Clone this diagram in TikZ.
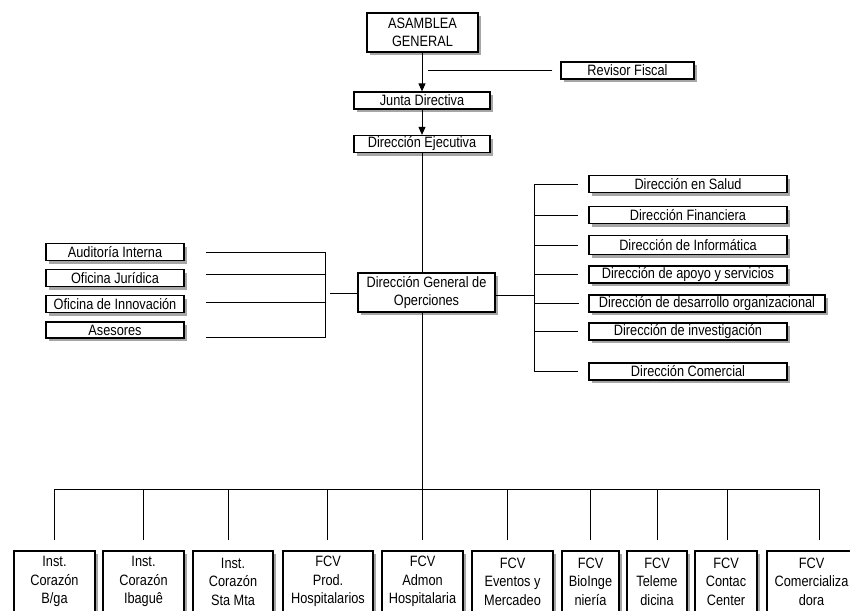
\documentclass[tikz,border=0pt]{standalone}
\usepackage{fontspec}
\setmainfont{Liberation Sans}[FakeStretch=0.85]
\usetikzlibrary{shadows,arrows.meta}
\begin{document}
\begin{tikzpicture}[x=1pt,y=-1pt,
  orgbox/.style={draw=black, line width=1.2pt, fill=white, inner sep=0pt, align=center,
    font=\fontsize{15}{18.5}\selectfont,
    drop shadow={shadow xshift=2.5pt, shadow yshift=-3pt, fill=black, opacity=0.35}},
  conn/.style={draw=black, line width=0.9pt},
  arr/.style={conn, -{Triangle[length=8pt,width=7pt]}}]
\useasboundingbox (0,0) rectangle (850,610);
% top
\node[orgbox, minimum width=111pt, minimum height=39pt] (asam) at (422.5,32.5) {ASAMBLEA\\GENERAL};
\node[orgbox, minimum width=133pt, minimum height=17pt] (rev) at (627.5,70.5) {Revisor Fiscal};
\node[orgbox, minimum width=136pt, minimum height=17pt] (junta) at (422,100.5) {Junta Directiva};
\node[orgbox, minimum width=136pt, minimum height=17pt] (eje) at (422,144) {Dirección Ejecutiva};
\node[orgbox, minimum width=137pt, minimum height=39pt] (dgo) at (426.5,292.5) {Dirección General de\\Operciones};
\draw[arr] (asam.south -| junta.north) -- (junta.north);
\draw[arr] (junta.south) -- (eje.north);
\draw[conn] ([xshift=-8pt]rev.west) -- ++(-124,0);
\draw[conn] (eje.south) -- (eje.south |- dgo.north);
% left staff
\node[orgbox, minimum width=138pt, minimum height=17pt] (l1) at (115,252) {Auditoría Interna};
\node[orgbox, minimum width=138pt, minimum height=17pt] (l2) at (115,278) {Oficina Jurídica};
\node[orgbox, minimum width=138pt, minimum height=17pt] (l3) at (115,304) {Oficina de Innovación};
\node[orgbox, minimum width=138pt, minimum height=16pt] (l4) at (115,330) {Asesores};
\coordinate (lb) at (325,293);
\draw[conn] ([xshift=21pt]l1.east) -- (lb |- l1.east);
\draw[conn] ([shift={(21pt,4pt)}]l2.east) -- ++(120,0);
\draw[conn] ([shift={(21pt,2pt)}]l3.east) -- ++(120,0);
\draw[conn] ([shift={(21pt,-7pt)}]l4.east) -- ++(120,0);
\draw[conn] (lb |- l1.east) -- ([yshift=-7pt]lb |- l4.east);
\draw[conn] ([xshift=5pt]lb) -- (dgo.west |- lb);
% right directions
\node[orgbox, minimum width=198pt, minimum height=17pt] (r1) at (688,184) {Dirección en Salud};
\node[orgbox, minimum width=198pt, minimum height=17pt] (r2) at (688,215) {Dirección Financiera};
\node[orgbox, minimum width=198pt, minimum height=19pt] (r3) at (688,245) {Dirección de Informática};
\node[orgbox, minimum width=198pt, minimum height=17pt] (r4) at (688,274.5) {Dirección de apoyo y servicios};
\node[orgbox, minimum width=236pt, minimum height=17pt] (r5) at (707,303.5) {Dirección de desarrollo organizacional};
\node[orgbox, minimum width=198pt, minimum height=17pt] (r6) at (688,331.5) {Dirección de investigación};
\node[orgbox, minimum width=198pt, minimum height=17pt] (r7) at (688,371.5) {Dirección Comercial};
\coordinate (rb) at (534,295);
\draw[conn] (dgo.east |- rb) -- (rb);
\draw[conn] (rb |- r1.west) -- (rb |- r7.west);
\foreach \n in {r1,r2,r3,r4,r6,r7}{
  \draw[conn] (rb |- \n.west) -- ([xshift=-10pt]\n.west);
}
\draw[conn] (rb |- r5.west) -- ([xshift=-9pt]r5.west);
% bottom units
\coordinate (busL) at (55,489);
\coordinate (busR) at (819,489);
\draw[conn] (dgo.south -| eje.south) -- (eje.south |- busL);
\draw[conn] (busL) -- (busR);
\node[orgbox, minimum width=81pt, minimum height=61pt] (b1) at (54.5,581.5) {Inst.\\Corazón\\B/ga};
\node[orgbox, minimum width=81pt, minimum height=61pt] (b2) at (143.5,581.5) {Inst.\\Corazón\\Ibaguê};
\node[orgbox, minimum width=80pt, minimum height=61pt] (b3) at (233,581.5) {Inst.\\Corazón\\Sta Mta};
\node[orgbox, minimum width=90pt, minimum height=61pt] (b4) at (328,581.5) {FCV\\Prod.\\Hospitalarios};
\node[orgbox, minimum width=81pt, minimum height=61pt] (b5) at (422.5,581.5) {FCV\\Admon\\Hospitalaria};
\node[orgbox, minimum width=81pt, minimum height=61pt] (b6) at (512.5,581.5) {FCV\\Eventos y\\Mercadeo};
\node[orgbox, minimum width=57pt, minimum height=61pt] (b7) at (590.5,581.5) {FCV\\BioInge\\niería};
\node[orgbox, minimum width=60pt, minimum height=61pt] (b8) at (657,581.5) {FCV\\Teleme\\dicina};
\node[orgbox, minimum width=62pt, minimum height=61pt] (b9) at (726,581.5) {FCV\\Contac\\Center};
\node[orgbox, minimum width=89pt, minimum height=61pt] (b10) at (811.5,581.5) {FCV\\Comercializa\\dora};
\draw[conn] ([yshift=10pt]b1.north) -- (b1.north |- busL);
\draw[conn] ([yshift=10pt]b2.north) -- (b2.north |- busL);
\draw[conn] ([shift={(-5pt,10pt)}]b3.north) -- ++(0,-51);
\draw[conn] ([shift={(-1pt,10pt)}]b4.north) -- ++(0,-51);
\draw[conn] ([yshift=10pt]b5.north) -- ++(0,-51);
\draw[conn] ([shift={(-5.5pt,10pt)}]b6.north) -- ++(0,-51);
\draw[conn] ([yshift=10pt]b7.north) -- ++(0,-51);
\draw[conn] ([yshift=10pt]b8.north) -- ++(0,-51);
\draw[conn] ([shift={(1pt,10pt)}]b9.north) -- ++(0,-51);
\draw[conn] ([yshift=10pt]b10.north -| busR) -- (busR);
\end{tikzpicture}
\end{document}
